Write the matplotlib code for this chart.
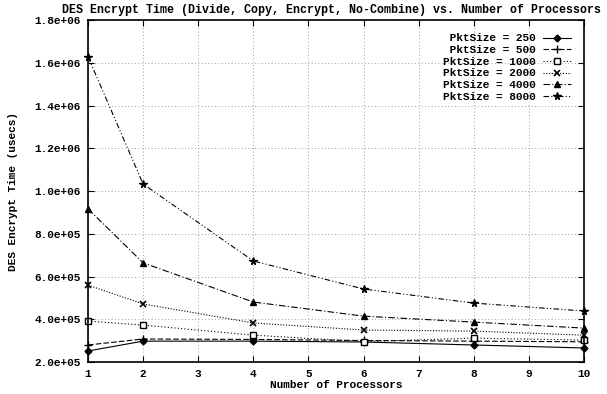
import matplotlib
matplotlib.use("Agg")
import matplotlib.pyplot as plt
from matplotlib.ticker import FuncFormatter

processors = [1, 2, 4, 6, 8, 10]
labels = ["PktSize = 250", "PktSize = 500", "PktSize = 1000",
          "PktSize = 2000", "PktSize = 4000", "PktSize = 8000"]
pkt250 = [2.52e5, 2.98e5, 2.98e5, 2.94e5, 2.80e5, 2.66e5]
pkt500 = [2.80e5, 3.08e5, 3.06e5, 3.01e5, 2.98e5, 2.95e5]
pkt1000 = [3.92e5, 3.73e5, 3.26e5, 2.96e5, 3.12e5, 3.03e5]
pkt2000 = [5.60e5, 4.72e5, 3.83e5, 3.50e5, 3.45e5, 3.26e5]
pkt4000 = [9.17e5, 6.64e5, 4.81e5, 4.15e5, 3.87e5, 3.59e5]
pkt8000 = [1.628e6, 1.033e6, 6.73e5, 5.42e5, 4.76e5, 4.39e5]
series = [pkt250, pkt500, pkt1000, pkt2000, pkt4000, pkt8000]
xticks = list(range(1, 11))
yticks = [2e5 * i for i in range(1, 10)]

font = "Liberation Mono"
plt.rcParams['font.family'] = [font, 'DejaVu Sans Mono']
plt.rcParams['font.weight'] = 'bold'
plt.rcParams['font.size'] = 8

fig = plt.figure(figsize=(6.07, 3.94), dpi=100)
ax = fig.add_axes([0.145, 0.081, 0.817, 0.868])

styles = [
    dict(ls='-', marker='D', ms=3.5, mfc='black'),
    dict(ls=(0, (5, 2)), marker='+', ms=6, mew=1.0),
    dict(ls=(0, (1, 2)), marker='s', ms=5, mfc='white', mew=1.0),
    dict(ls=(0, (1, 1.5)), marker='x', ms=5, mew=1.2),
    dict(ls=(0, (6, 2, 1, 2)), marker='^', ms=5, mfc='black'),
    dict(ls=(0, (5, 2, 1, 2, 1, 2)), marker='*', ms=5.5, mfc='black'),
]
maxlen = max(len(l) for l in labels)
for vals, lab, st in zip(series, labels, styles):
    ax.plot(processors, vals, color='black', lw=0.8, mec='black',
            label=lab.rjust(maxlen), clip_on=False, **st)

ax.set_xlim(1, 10)
ax.set_ylim(2e5, 1.8e6)
ax.set_xticks(xticks)
ax.set_yticks(yticks)
ax.yaxis.set_major_formatter(FuncFormatter(lambda v, p: "%.1e" % v))
ax.grid(True, ls=(0, (1, 3)), color='gray', lw=0.6)
ax.tick_params(direction='in', top=True, right=True, length=4, labelsize=8, pad=5)
for s in ax.spines.values():
    s.set_linewidth(1.2)

ax.set_title("DES Encrypt Time (Divide, Copy, Encrypt, No-Combine) vs. Number of Processors",
             fontsize=8.4, fontweight='bold', loc='right', pad=5, x=1.035)
ax.set_xlabel("Number of Processors", fontsize=8, fontweight='bold', labelpad=1)
ax.set_ylabel("DES Encrypt Time (usecs)", fontsize=8, fontweight='bold', labelpad=12)

leg = ax.legend(loc='upper right', markerfirst=False, frameon=False,
                handlelength=2.5, handletextpad=0.6, labelspacing=0.15,
                borderaxespad=0.8, prop={'family': font, 'weight': 'bold', 'size': 8})

fig.savefig("out.png", dpi=100)
